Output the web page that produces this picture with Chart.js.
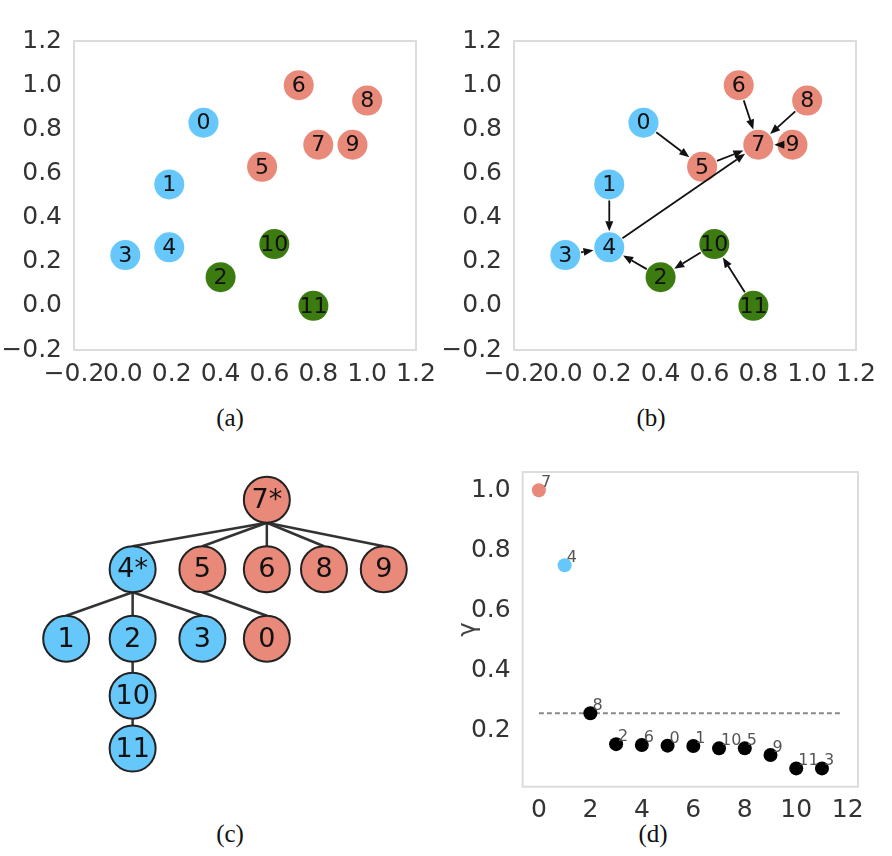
<!DOCTYPE html>
<html>
<head>
<meta charset="utf-8">
<script src="https://cdn.jsdelivr.net/npm/chart.js@4.4.0/dist/chart.umd.min.js"></script>
<style>
  body { margin:0; background:#fff; width:892px; height:856px; position:relative; overflow:hidden; }
  canvas { position:absolute; }
  .cap { position:absolute; font-family:"Liberation Serif","Times New Roman",serif; font-size:25px; color:#111; transform:translate(-50%,-50%); }
</style>
</head>
<body>
<canvas id="pa" width="440" height="400" style="left:0;top:0"></canvas>
<canvas id="pb" width="440" height="400" style="left:440px;top:0"></canvas>
<canvas id="pc" width="440" height="360" style="left:0;top:440px"></canvas>
<canvas id="pd" width="440" height="380" style="left:440px;top:440px"></canvas>
<div class="cap" style="left:230px;top:418px">(a)</div>
<div class="cap" style="left:651px;top:418px">(b)</div>
<div class="cap" style="left:230px;top:834px">(c)</div>
<div class="cap" style="left:653px;top:834px">(d)</div>
<script>
// panels (a) and (b): node positions
var nodeIds = [0, 1, 2, 3, 4, 5, 6, 7, 8, 9, 10, 11];
var nodeX = [0.33, 0.19, 0.40, 0.01, 0.19, 0.57, 0.72, 0.80, 1.00, 0.94, 0.62, 0.78];
var nodeY = [0.83, 0.55, 0.13, 0.23, 0.265, 0.63, 1.00, 0.73, 0.93, 0.73, 0.28, 0.00];
var nodeGroup = ['blue', 'blue', 'green', 'blue', 'blue', 'red', 'red', 'red', 'red', 'red', 'green', 'green'];
// panel (b): arrows
var edgeFrom = [0, 5, 6, 8, 9, 1, 3, 4, 2, 10, 11];
var edgeTo   = [5, 7, 7, 7, 7, 4, 4, 7, 4, 2, 10];
var axisTicks = [-0.2, 0.0, 0.2, 0.4, 0.6, 0.8, 1.0, 1.2];

// panel (c): tree
var treeLabels = ['7*', '4*', '5', '6', '8', '9', '1', '2', '3', '0', '10', '11'];
var treeCol    = [3.02, 1, 2.05, 3.02, 3.88, 4.78, 0, 1, 2.05, 3.02, 1, 1];
var treeDepth  = [0, 1, 1, 1, 1, 1, 2, 2, 2, 2, 2.82, 3.58];
var treeParent = [-1, 0, 0, 0, 0, 0, 1, 1, 1, 2, 7, 10];
var treeGroup  = ['red', 'blue', 'red', 'red', 'red', 'red', 'blue', 'blue', 'blue', 'red', 'blue', 'blue'];

// panel (d): gamma ranking
var rankPos = [0, 1, 2, 3, 4, 5, 6, 7, 8, 9, 10, 11];
var gammaValues = [1.0, 0.75, 0.256, 0.153, 0.15, 0.148, 0.147, 0.139, 0.139, 0.117, 0.072, 0.072];
var rankLabels = ['7', '4', '8', '2', '6', '0', '1', '10', '5', '9', '11', '3'];
var rankGroup = ['red', 'blue', 'black', 'black', 'black', 'black', 'black', 'black', 'black', 'black', 'black', 'black'];
var gammaThreshold = 0.256;
var thresholdSpan = [0, 11.8];
var rankTicks = [0, 2, 4, 6, 8, 10, 12];
var gammaTicks = [0.2, 0.4, 0.6, 0.8, 1.0];

var palette = { blue: '#66c7fb', red: '#e8897a', green: '#3b7b10', black: '#000000' };
var tickFont = { family: 'DejaVu Sans', size: 25 };

function fmt(v) {
  return (Math.round(v * 10) / 10).toFixed(1).replace('-', '\u2212');
}

var framePlugin = {
  id: 'frame',
  afterDraw: function(chart) {
    var a = chart.chartArea, ctx = chart.ctx;
    ctx.save();
    ctx.strokeStyle = '#dcdcdc';
    ctx.lineWidth = 2;
    ctx.strokeRect(a.left, a.top, a.right - a.left, a.bottom - a.top);
    ctx.restore();
  }
};

function labelPlugin(labels, size) {
  return {
    id: 'nodeText',
    afterDatasetsDraw: function(chart) {
      var ctx = chart.ctx;
      var pts = chart.getDatasetMeta(0).data;
      ctx.save();
      ctx.fillStyle = '#111';
      ctx.font = size + 'px "DejaVu Sans"';
      ctx.textAlign = 'center';
      ctx.textBaseline = 'middle';
      pts.forEach(function(p, i) { ctx.fillText(labels[i], p.x, p.y + 1); });
      ctx.restore();
    }
  };
}

var arrowPlugin = {
  id: 'arrows',
  afterDatasetsDraw: function(chart) {
    var ctx = chart.ctx;
    var pts = chart.getDatasetMeta(0).data;
    var r = 16, head = 10, half = 4;
    ctx.save();
    ctx.strokeStyle = '#111';
    ctx.fillStyle = '#111';
    ctx.lineWidth = 1.8;
    for (var k = 0; k < edgeFrom.length; k++) {
      var s = pts[edgeFrom[k]], t = pts[edgeTo[k]];
      var dx = t.x - s.x, dy = t.y - s.y, len = Math.sqrt(dx * dx + dy * dy);
      var ux = dx / len, uy = dy / len;
      var sx = s.x + ux * r, sy = s.y + uy * r;
      var ex = t.x - ux * r, ey = t.y - uy * r;
      var bx = ex - ux * head, by = ey - uy * head;
      ctx.beginPath();
      ctx.moveTo(sx, sy);
      ctx.lineTo(bx, by);
      ctx.stroke();
      ctx.beginPath();
      ctx.moveTo(ex, ey);
      ctx.lineTo(bx - uy * half, by + ux * half);
      ctx.lineTo(bx + uy * half, by - ux * half);
      ctx.closePath();
      ctx.fill();
    }
    ctx.restore();
  }
};

var treeEdgePlugin = {
  id: 'treeEdges',
  beforeDatasetsDraw: function(chart) {
    var ctx = chart.ctx;
    var pts = chart.getDatasetMeta(0).data;
    var r = 23;
    ctx.save();
    ctx.strokeStyle = '#333';
    ctx.lineWidth = 2.5;
    treeParent.forEach(function(p, i) {
      if (p < 0) return;
      ctx.beginPath();
      ctx.moveTo(pts[p].x, pts[p].y + r);
      ctx.lineTo(pts[i].x, pts[i].y - r);
      ctx.stroke();
    });
    ctx.restore();
  }
};

var rankLabelPlugin = {
  id: 'rankLabels',
  afterDatasetsDraw: function(chart) {
    var ctx = chart.ctx;
    var pts = chart.getDatasetMeta(0).data;
    ctx.save();
    ctx.fillStyle = '#555';
    ctx.font = '16px "DejaVu Sans"';
    ctx.textAlign = 'left';
    ctx.textBaseline = 'alphabetic';
    pts.forEach(function(p, i) { ctx.fillText(rankLabels[i], p.x + 2, p.y - 3); });
    ctx.restore();
  }
};

function planeScale(axis) {
  return {
    type: 'linear',
    position: axis === 'x' ? 'bottom' : 'left',
    min: -0.2, max: 1.2,
    grid: { display: false },
    border: { display: false },
    afterBuildTicks: function(s) { s.ticks = axisTicks.map(function(v) { return { value: v }; }); },
    afterFit: function(s) { if (axis === 'x') s.height = 40; else s.width = 70; },
    ticks: { color: '#333', font: tickFont, padding: axis === 'x' ? 1 : 4, maxRotation: 0, autoSkip: false,
             callback: function(v) { return fmt(v); } }
  };
}

function planeChart(id, extra) {
  var pts = nodeIds.map(function(n, i) { return { x: nodeX[i], y: nodeY[i] }; });
  return new Chart(document.getElementById(id), {
    type: 'scatter',
    data: { datasets: [{
      data: pts,
      pointRadius: 15,
      pointBorderWidth: 0,
      pointBackgroundColor: nodeGroup.map(function(g) { return palette[g]; }),
      clip: false
    }] },
    options: {
      responsive: false, animation: false, devicePixelRatio: 1,
      layout: { padding: { left: 4, top: 41, right: 24, bottom: 10 } },
      plugins: { legend: { display: false }, tooltip: { enabled: false } },
      scales: { x: planeScale('x'), y: planeScale('y') }
    },
    plugins: [framePlugin].concat(extra).concat([labelPlugin(nodeIds.map(String), 22)])
  });
}

planeChart('pa', []);
planeChart('pb', [arrowPlugin]);

new Chart(document.getElementById('pc'), {
  type: 'scatter',
  data: { datasets: [{
    data: treeLabels.map(function(l, i) { return { x: treeCol[i], y: treeDepth[i] }; }),
    pointRadius: 23,
    pointBorderWidth: 2,
    pointBorderColor: '#222',
    pointBackgroundColor: treeGroup.map(function(g) { return palette[g]; }),
    clip: false
  }] },
  options: {
    responsive: false, animation: false, devicePixelRatio: 1,
    layout: { padding: 0 },
    plugins: { legend: { display: false }, tooltip: { enabled: false } },
    scales: {
      x: { type: 'linear', display: false, min: -0.62, max: 5.25 },
      y: { type: 'linear', display: false, min: -0.5, max: 3.96, reverse: true }
    }
  },
  plugins: [treeEdgePlugin, labelPlugin(treeLabels, 27)]
});

new Chart(document.getElementById('pd'), {
  type: 'scatter',
  data: { datasets: [{
    data: rankPos.map(function(p, i) { return { x: p, y: gammaValues[i] }; }),
    pointRadius: 7,
    pointBorderWidth: 0,
    pointBackgroundColor: rankGroup.map(function(g) { return palette[g]; }),
    order: 0
  }, {
    type: 'line',
    data: thresholdSpan.map(function(x) { return { x: x, y: gammaThreshold }; }),
    borderColor: '#8a8a8a',
    borderWidth: 2,
    borderDash: [5, 3],
    pointRadius: 0,
    fill: false,
    order: 1
  }] },
  options: {
    responsive: false, animation: false, devicePixelRatio: 1,
    layout: { padding: { left: 0, top: 32, right: 22, bottom: 0 } },
    plugins: { legend: { display: false }, tooltip: { enabled: false } },
    scales: {
      x: {
        type: 'linear', min: -0.63, max: 12.4,
        grid: { display: false }, border: { display: false },
        afterBuildTicks: function(s) { s.ticks = rankTicks.map(function(v) { return { value: v }; }); },
        afterFit: function(s) { s.height = 33.3; },
        ticks: { color: '#333', font: tickFont, padding: 1, maxRotation: 0, autoSkip: false }
      },
      y: {
        type: 'linear', min: 0.011, max: 1.061,
        grid: { display: false }, border: { display: false },
        afterBuildTicks: function(s) { s.ticks = gammaTicks.map(function(v) { return { value: v }; }); },
        afterFit: function(s) { s.width = 82.7; },
        title: { display: true, text: '\u03b3', color: '#444', font: { family: 'DejaVu Sans', size: 24 }, padding: { top: 14, bottom: 0 } },
        ticks: { color: '#333', font: tickFont, padding: 4, autoSkip: false,
                 callback: function(v) { return fmt(v); } }
      }
    }
  },
  plugins: [framePlugin, rankLabelPlugin]
});
</script>
</body>
</html>
